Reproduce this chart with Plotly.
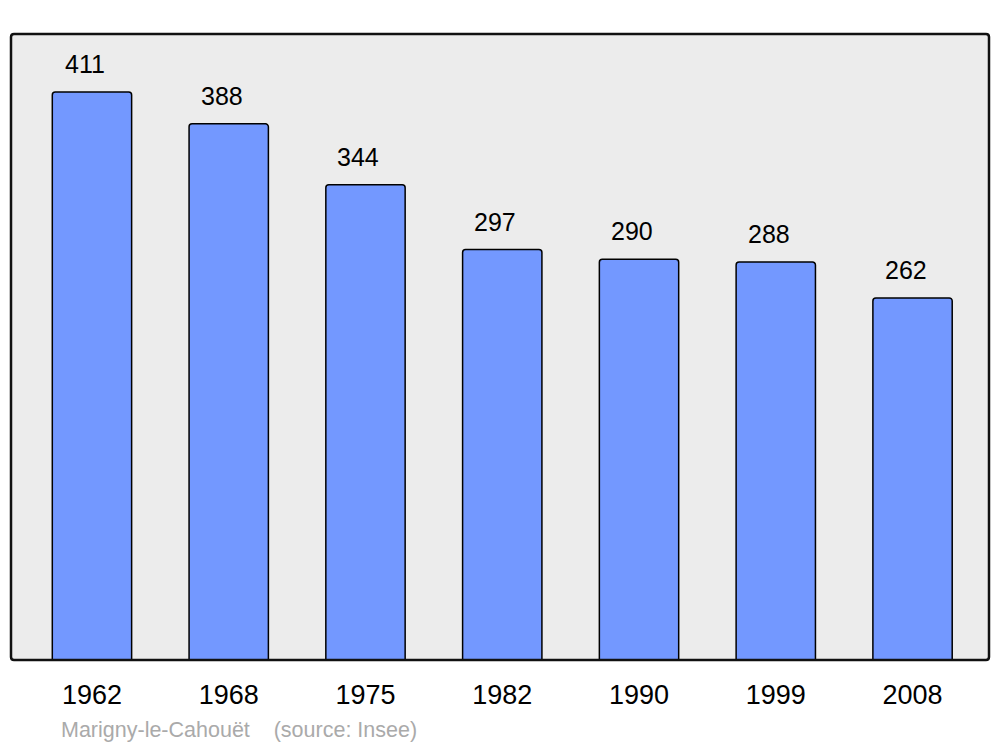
import plotly.graph_objects as go

years = ["1962", "1968", "1975", "1982", "1990", "1999", "2008"]
population = [411, 388, 344, 297, 290, 288, 262]
commune = "Marigny-le-Cahouët"
source = "(source: Insee)"

W, H = 1000, 747
L, T = 11, 34
R = W - 989
B = H - 660
pw, ph = W - L - R, H - T - B

xpos = list(range(len(years)))

fig = go.Figure()
fig.add_trace(go.Bar(
    x=xpos, y=population, width=0.58,
    marker=dict(color="#7398ff", line=dict(color="#000000", width=1.5), cornerradius=3),
    hoverinfo="skip",
))

for xi, v in zip(xpos, population):
    fig.add_annotation(x=xi, y=v, text=str(v), showarrow=False, xshift=-7, yshift=28,
                       yanchor="middle", font=dict(family="Liberation Sans, Arial", size=25, color="#000"))

# rounded border of plot area
rx, ry = 3 / pw, 3 / ph
path = (f"M {rx} 0 L {1-rx} 0 Q 1 0 1 {ry} L 1 {1-ry} Q 1 1 {1-rx} 1 "
        f"L {rx} 1 Q 0 1 0 {1-ry} L 0 {ry} Q 0 0 {rx} 0 Z")
fig.add_shape(type="path", path=path, xref="paper", yref="paper",
              line=dict(color="#111", width=2.5), layer="above")

fig.add_annotation(x=(59 - L) / pw, y=(660 - 730) / ph, xref="paper", yref="paper",
                   text=commune + "\u00a0\u00a0\u00a0\u00a0" + source, showarrow=False,
                   xanchor="left", yanchor="middle",
                   font=dict(family="Liberation Sans, Arial", size=21.5, color="#aaaaaa"))

fig.update_layout(
    width=W, height=H,
    margin=dict(l=L, r=R, t=T, b=B, pad=0),
    paper_bgcolor="#ffffff", plot_bgcolor="#ececec",
    showlegend=False,
    xaxis=dict(tickmode="array", tickvals=xpos, ticktext=years, range=[-0.592, 6.559],
               showgrid=False, zeroline=False, showline=False, ticks="", ticklabelstandoff=16,
               tickfont=dict(family="Liberation Sans, Arial", size=27, color="#000"), fixedrange=True),
    yaxis=dict(range=[0, 453], showgrid=False, zeroline=False, showline=False,
               showticklabels=False, fixedrange=True),
)

fig.write_html("out.html", config={"displayModeBar": False},
               post_script="document.body.style.margin='0';document.body.style.overflow='hidden';")
